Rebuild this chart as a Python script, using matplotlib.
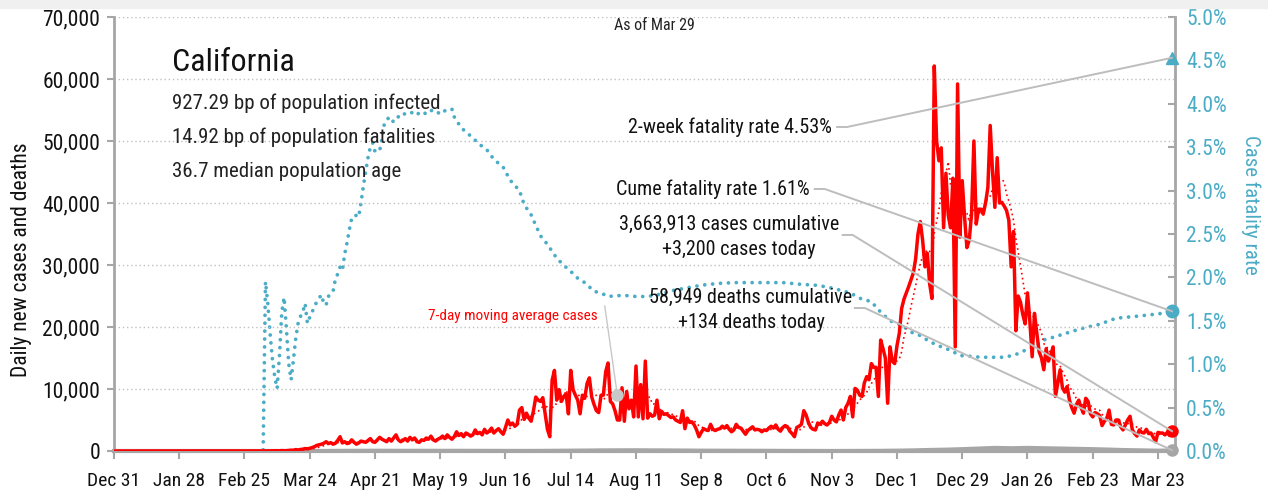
import matplotlib.pyplot as plt
import numpy as np
import pandas as pd
from matplotlib.patches import Rectangle

plt.rcParams['font.family'] = ['Roboto Condensed', 'Barlow Semi Condensed', 'Archivo Narrow', 'DejaVu Sans']

RED = "#ff0000"
TEAL = "#4bacc6"
GRAY = "#a6a6a6"
GRID = "#c0c0c0"

# x axis: days since Dec 31 2019
tick_days = [0, 28, 56, 84, 112, 140, 168, 196, 224, 252, 280, 308, 336, 364, 392, 420, 448]
tick_labels = ["Dec 31", "Jan 28", "Feb 25", "Mar 24", "Apr 21", "May 19", "Jun 16", "Jul 14",
               "Aug 11", "Sep 8", "Oct 6", "Nov 3", "Dec 1", "Dec 29", "Jan 26", "Feb 23", "Mar 23"]

# daily new cases, one row per week starting Dec 31 2019
daily_cases = [
    0, 0, 0, 0, 0, 0, 0,
    0, 0, 0, 0, 0, 0, 0,
    0, 0, 0, 0, 0, 0, 0,
    0, 0, 1, 0, 0, 0, 0,
    0, 1, 0, 0, 0, 0, 1,
    0, 0, 0, 0, 0, 0, 0,
    0, 0, 0, 0, 0, 0, 0,
    0, 0, 0, 0, 0, 0, 0,
    1, 0, 1, 3, 2, 3, 5,
    8, 10, 7, 14, 20, 25, 44,
    45, 24, 69, 45, 56, 90, 131,
    125, 230, 160, 250, 290, 390, 360,
    430, 550, 700, 900, 1000, 1100, 1240,
    1500, 1200, 1350, 1100, 1250, 1700, 2300,
    1300, 1500, 1200, 1300, 1800, 1400, 1100,
    1300, 1600, 1500, 1400, 1700, 2000, 1500,
    1400, 1800, 2200, 1900, 1700, 1500, 2000,
    1600, 2100, 2600, 1800, 1500, 1700, 2000,
    1600, 2200, 1800, 2100, 1500, 1400, 1800,
    1700, 2100, 1900, 2400, 1800, 1600, 1900,
    2100, 2400, 2000, 2600, 2200, 1900, 2300,
    3100, 2500, 2800, 2300, 2900, 2700, 2400,
    2600, 3400, 2800, 3000, 2600, 3500, 2900,
    3200, 3700, 2900, 3300, 3600, 3100, 2700,
    3800, 5000, 4200, 4500, 4000, 4300, 6600,
    7000, 5100, 6100, 5300, 4800, 6500, 8700,
    8200, 8000, 8600, 6000, 3500, 2300, 11400,
    13000, 8200, 9900, 8000, 8800, 9200, 6000,
    13000, 9900, 9000, 8200, 6000, 9000, 8500,
    10900, 11800, 8700, 7500, 6500, 6200, 9000,
    9000, 12800, 14200, 8000, 7600, 6500, 5000,
    5000, 10200, 4800, 9600, 6800, 8200, 5500,
    13700, 5500, 10700, 5200, 14500, 5300, 6000,
    5600, 5800, 8200, 5200, 6400, 5900, 6000,
    5700, 5400, 5500, 5000, 4800, 4600, 6500,
    3600, 5300, 4600, 4700, 4200, 3400, 2300,
    3000, 3600, 3400, 3300, 4300, 3500, 3300,
    3500, 3600, 4000, 3700, 4100, 3500, 3100,
    3400, 4300, 3800, 3700, 3200, 2700, 3300,
    3600, 3900, 3400, 3500, 3400, 3100, 3400,
    3300, 3700, 4000, 3700, 4200, 3500, 3200,
    3800, 4100, 3900, 3200, 2800, 2300, 3800,
    4000, 4300, 6500, 5800, 4600, 3800, 3500,
    3400, 4500, 4300, 4800, 4400, 4200, 4600,
    5600, 5000, 4700, 5800, 6600, 5000, 7000,
    7700, 8800, 5500, 10100, 9800, 9000, 8800,
    11000, 12000, 11500, 14100, 13500, 13500, 8800,
    17900, 16500, 15000, 7700, 16800, 14500, 14100,
    17000, 19000, 23000, 24500, 25500, 26500, 27600,
    28700, 31000, 35000, 37000, 34000, 29700, 31900,
    27000, 24600, 62100, 50000, 46800, 48900, 36000,
    44800, 38000, 36000, 44000, 16800, 59200, 34500,
    43600, 37700, 32800, 34000, 38200, 50000, 36600,
    39000, 39000, 38200, 40000, 42500, 52500, 45000,
    39300, 47300, 40000, 40100, 39500, 38800, 37200,
    29700, 35400, 19400, 25000, 24000, 22000, 20500,
    25500, 21000, 15200, 22200, 19000, 16000, 15000,
    13100, 16500, 14500, 15500, 16800, 8800, 11000,
    13100, 10200, 9500, 10400, 8200, 7000, 6100,
    7500, 8200, 7000, 6100, 8500, 8000, 6000,
    5500, 6200, 6000, 5700, 4100, 4800, 5200,
    6600, 4300, 4200, 5000, 5000, 3900, 3400,
    4200, 5000, 5600, 3400, 2800, 2400, 3400,
    3000, 2900, 3500, 2800, 2900, 2200, 1500,
    3000, 2900, 2900, 2600, 3000, 2500, 3200,
]

# daily deaths, sampled weekly
death_days = [0, 7, 14, 21, 28, 35, 42, 49, 56, 63, 70, 77, 84, 91, 98, 105, 112, 119, 126,
              133, 140, 147, 154, 161, 168, 175, 182, 189, 196, 203, 210, 217, 224, 231, 238,
              245, 252, 259, 266, 273, 280, 287, 294, 301, 308, 315, 322, 329, 336, 343, 350,
              357, 364, 371, 378, 385, 392, 399, 406, 413, 420, 427, 434, 441, 448, 454]
death_vals = [0, 0, 0, 0, 0, 0, 0, 0, 0, 0, 2, 5, 30, 50, 70, 80, 90, 80, 75,
              80, 70, 75, 70, 65, 60, 55, 60, 80, 100, 120, 150, 160, 170, 150, 140,
              120, 100, 90, 85, 80, 75, 60, 55, 50, 45, 50, 60, 70, 100, 150, 220,
              270, 350, 450, 550, 500, 550, 500, 450, 400, 350, 280, 200, 150, 100, 134]

# case fatality rate (%)
cfr_days = [0, 7, 14, 21, 28, 35, 42, 49, 56, 63, 64,
            65, 66, 67, 68, 69, 70, 71, 72, 73, 74, 75, 76, 77, 78, 79,
            80, 81, 82, 83, 84, 85, 86, 87, 88, 89, 90, 91, 92, 93, 94, 95, 96, 97, 98, 99,
            100, 101, 102, 103, 104, 105, 106, 107, 108, 109, 110, 111, 112, 113, 114, 115,
            116, 117, 118, 119, 120, 121, 122, 123, 124, 125, 126, 127, 128, 129, 130, 131,
            132, 133, 134, 135, 136, 137, 138, 139, 140, 141, 142, 143, 144, 145, 146,
            147, 150, 153, 157, 160, 163, 167, 170, 174, 176, 179, 183, 186, 190, 193, 196,
            199, 202, 206, 209, 212, 216, 220, 224, 228, 232, 236, 240, 246, 252, 259, 266,
            273, 280, 287, 295, 301, 306, 312, 316, 320, 325, 329, 333, 338, 342, 346, 350,
            355, 359, 363, 368, 372, 377, 381, 386, 391, 395, 399, 403, 409, 415, 423, 430,
            438, 445, 451, 454]
cfr_vals = [0, 0, 0, 0, 0, 0, 0, 0, 0, 0, 0,
            1.95, 1.7, 1.35, 1.05, 0.85, 0.72, 1.1, 1.6, 1.77, 1.4, 1.0, 0.82, 1.05, 1.3, 1.47,
            1.55, 1.6, 1.7, 1.47, 1.54, 1.6, 1.66, 1.72, 1.76, 1.8, 1.7, 1.68, 1.78, 1.82, 1.84,
            1.98, 2.04, 2.12, 2.08, 2.27,
            2.4, 2.55, 2.68, 2.68, 2.72, 2.7, 2.86, 3.05, 3.22, 3.38, 3.5, 3.55, 3.45, 3.45,
            3.46, 3.6, 3.77, 3.8, 3.85, 3.82, 3.79, 3.82, 3.85, 3.88, 3.87, 3.89, 3.9, 3.89,
            3.9, 3.88, 3.87, 3.9, 3.91, 3.9, 3.88, 3.9, 3.92, 3.93, 3.92, 3.9, 3.88, 3.9,
            3.92, 3.93, 3.94, 3.94, 3.85,
            3.8, 3.7, 3.63, 3.53, 3.47, 3.36, 3.27, 3.12, 3.0, 2.84, 2.72, 2.48, 2.38, 2.22,
            2.14, 2.07, 1.99, 1.94, 1.84, 1.82, 1.78, 1.79, 1.79, 1.78, 1.78, 1.79, 1.82, 1.85,
            1.88, 1.91, 1.93, 1.94, 1.94, 1.94, 1.94, 1.92, 1.91, 1.89, 1.85, 1.82, 1.76, 1.72,
            1.6, 1.5, 1.45, 1.37, 1.33, 1.26, 1.2, 1.16, 1.1, 1.09, 1.08, 1.08, 1.08, 1.1, 1.16,
            1.2, 1.28, 1.31, 1.36, 1.41, 1.46, 1.53, 1.55, 1.57, 1.59, 1.61]

two_week_cfr = 4.53
cume_cfr = 1.61
cases_today = 3200
deaths_today = 134
ma_marker_day = 216

info_lines = ["927.29 bp of population infected",
              "14.92 bp of population fatalities",
              "36.7 median population age"]

# left axis 70,000 corresponds to right axis 5%
LEFT_PER_PCT = 70000 / 5.0

days = np.arange(len(daily_cases))
cases = np.array(daily_cases, dtype=float)
ma7 = pd.Series(cases).rolling(7).mean().to_numpy()
last_day = days[-1]

fig = plt.figure(figsize=(12.68, 4.91), dpi=100)
fig.patches.append(Rectangle((0, 1 - 8 / 491), 1, 8 / 491, transform=fig.transFigure,
                             color="#f0f0f0", zorder=0))
ax = fig.add_axes([114 / 1268, 1 - 451 / 491, 1061 / 1268, 434 / 491])
ax2 = ax.twinx()
ax.set_zorder(ax2.get_zorder() + 1)
ax.patch.set_visible(False)

# --- series ---
ax2.plot(cfr_days, cfr_vals, color=TEAL, lw=2.7, linestyle=(0, (0.01, 2.1)),
         dash_capstyle="round", zorder=2)
ax2.plot(last_day, two_week_cfr, marker="^", ms=9, color=TEAL, zorder=4, clip_on=False)
ax2.plot(last_day, cume_cfr, marker="o", ms=9, color=TEAL, zorder=4, clip_on=False)

ax.plot(death_days, death_vals, color=GRAY, lw=2.5, zorder=3)
ax.plot(days, ma7, color=RED, lw=1.2, linestyle=(0, (1, 2)), zorder=3)
ax.plot(days, cases, color=RED, lw=2.5, zorder=4)
ax.plot(last_day, cases_today, marker="o", ms=8, color=RED, zorder=5, clip_on=False)
ax.plot(last_day, deaths_today, marker="o", ms=8, color=GRAY, zorder=5, clip_on=False)
ax.plot(ma_marker_day, ma7[ma_marker_day], marker="o", ms=8, color="#c8c8c8", zorder=5)

# --- axes ---
ax.set_xlim(0, 455.3)
ax.set_ylim(0, 70000)
ax2.set_ylim(0, 5)
ax.set_xticks(tick_days)
ax.set_xticklabels(tick_labels)
ax.set_yticks(np.arange(0, 70001, 10000))
ax.yaxis.set_major_formatter(plt.FuncFormatter(lambda v, p: f"{v:,.0f}"))
ax2.set_yticks(np.arange(0, 5.01, 0.5))
ax2.yaxis.set_major_formatter(plt.FuncFormatter(lambda v, p: f"{v:.1f}%"))

ax.yaxis.grid(True, color=GRID, linestyle=(0, (1, 2)), lw=1.0)
ax.set_axisbelow(True)

for a in (ax, ax2):
    a.spines["top"].set_visible(False)
ax.spines["right"].set_visible(False)
ax2.spines["left"].set_visible(False)
ax2.spines["bottom"].set_visible(False)
ax.spines["left"].set_color(GRAY)
ax.spines["left"].set_linewidth(2)
ax.spines["bottom"].set_color(GRAY)
ax.spines["bottom"].set_linewidth(3)
ax2.spines["right"].set_color(GRAY)
ax2.spines["right"].set_linewidth(2)

ax.tick_params(axis="x", direction="out", length=6, width=1.5, color=GRAY,
               labelsize=14, pad=9, labelcolor="#111111")
ax.tick_params(axis="y", direction="out", length=5, width=1.5, color=GRAY,
               labelsize=15.5, pad=5, labelcolor="#111111")
ax2.tick_params(axis="y", direction="in", length=5, width=1.5, color=GRAY,
                labelsize=15.5, pad=8, labelcolor=TEAL)

ax.set_ylabel("Daily new cases and deaths", fontsize=15.5, color="#111111")
ax.yaxis.set_label_coords(-0.077, 0.44)
ax2.set_ylabel("Case fatality rate", fontsize=15, color=TEAL, rotation=270, va="center")
ax2.yaxis.set_label_coords(1.071, 0.567)

# --- text block ---
ax.text(232, 68700, "As of Mar 29", fontsize=11.5, ha="center", va="center", color="#222222")
ax.text(25, 62700, "California", fontsize=23, ha="left", va="center", color="#111111")
for i, line in enumerate(info_lines):
    ax.text(25, 56100 - i * 5480, line, fontsize=15, ha="left", va="center", color="#222222")

# --- callouts ---
ax.text(308, 52260, f"2-week fatality rate {two_week_cfr:.2f}%", fontsize=14.5,
        ha="right", va="center", color="#111111")
ax.plot([310.3, 314.6, last_day], [52260, 52260, two_week_cfr * LEFT_PER_PCT],
        color="#bdbdbd", lw=1.4, zorder=6, clip_on=False)

ax.text(298.6, 42260, f"Cume fatality rate {cume_cfr:.2f}%", fontsize=14.5,
        ha="right", va="center", color="#111111")
ax.plot([300.7, 305, last_day], [42260, 42260, cume_cfr * LEFT_PER_PCT],
        color="#bdbdbd", lw=1.4, zorder=6, clip_on=False)

ax.text(263.8, 36610, "3,663,913 cases cumulative", fontsize=14.5,
        ha="center", va="center", color="#111111")
ax.text(268.1, 32420, f"+{cases_today:,} cases today", fontsize=14.5,
        ha="center", va="center", color="#111111")
ax.plot([312.7, 317, last_day], [34840, 34840, cases_today],
        color="#bdbdbd", lw=1.4, zorder=6, clip_on=False)

ax.text(273.3, 24840, "58,949 deaths cumulative", fontsize=14.5,
        ha="center", va="center", color="#111111")
ax.text(273.7, 20650, f"+{deaths_today} deaths today", fontsize=14.5,
        ha="center", va="center", color="#111111")
ax.plot([317.9, 322.2, last_day], [23060, 23060, deaths_today],
        color="#bdbdbd", lw=1.4, zorder=6, clip_on=False)

ax.text(171.2, 21770, "7-day moving average cases", fontsize=11,
        ha="center", va="center", color=RED)
ax.plot([210.6, ma_marker_day], [23390, ma7[ma_marker_day]], color="#c8c8c8", lw=1.0, zorder=6)

fig.savefig("out.png", dpi=100)
